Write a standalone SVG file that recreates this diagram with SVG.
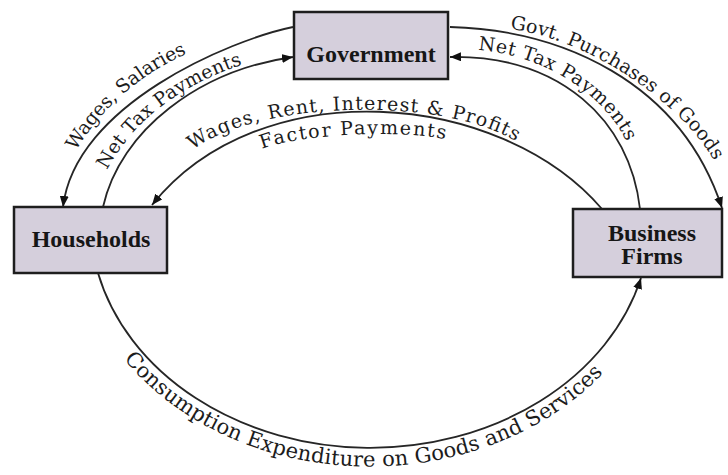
<svg xmlns="http://www.w3.org/2000/svg" width="728" height="475" viewBox="0 0 728 475">
  <style>
    .box { fill: #d5cfdc; stroke: #1e1e1e; stroke-width: 2.5; }
    .name { font-family: "Liberation Serif", "Times New Roman", serif; font-weight: bold; font-size: 24px; fill: #161616; text-anchor: middle; }
    .flow { fill: none; stroke: #262626; stroke-width: 1.8; marker-end: url(#head); }
    .lbl { font-family: "DejaVu Serif", "Liberation Serif", serif; font-size: 19px; fill: #1c1c1c; }
    .guide { fill: none; stroke: none; }
  </style>
  <defs>
    <marker id="head" markerUnits="userSpaceOnUse" markerWidth="11" markerHeight="9" refX="11" refY="4.5" orient="auto">
      <path d="M0,0 L11,4.5 L0,9 z" fill="#111"/>
    </marker>
    <!-- baselines for the flow labels -->
    <path id="g-wages-sal" class="guide" d="M 76 151 Q 114 86 190 52"/>
    <path id="g-tax-left" class="guide" d="M 107 170 Q 146 96 247 63"/>
    <path id="g-factor-top" class="guide" d="M 193 150 C 255 101, 445 94, 520 144"/>
    <path id="g-factor-bot" class="guide" d="M 262 149 C 300 134, 400 129, 450 140"/>
    <path id="g-purchases" class="guide" d="M 510 29 C 595 40, 690 110, 718 168"/>
    <path id="g-tax-right" class="guide" d="M 478 50 C 548 55, 612 100, 630 150"/>
    <path id="g-consumption" class="guide" d="M 124 359 A 297 245 0 0 0 607 369"/>
  </defs>

  <rect width="728" height="475" fill="#ffffff"/>

  <!-- flows between sectors -->
  <g id="connectors">
    <path class="flow" d="M 293 27 C 230 40, 75 105, 63 207"/>
    <path class="flow" d="M 103 207 C 120 130, 200 70, 293 57"/>
    <path class="flow" d="M 602 209 C 500 90, 260 70, 152 205"/>
    <path class="flow" d="M 450 27 C 560 30, 680 80, 722 208"/>
    <path class="flow" d="M 640 209 C 630 120, 560 55, 450 57"/>
    <path class="flow" d="M 98 273 A 280 228 0 0 0 641 278"/>
  </g>

  <g id="labels">
    <text class="lbl"><textPath href="#g-wages-sal" textLength="150" lengthAdjust="spacing">Wages, Salaries</textPath></text>
    <text class="lbl"><textPath href="#g-tax-left" textLength="176" lengthAdjust="spacing">Net Tax Payments</textPath></text>
    <text class="lbl"><textPath href="#g-factor-top" textLength="335" lengthAdjust="spacing">Wages, Rent, Interest &amp; Profits</textPath></text>
    <text class="lbl"><textPath href="#g-factor-bot" textLength="185" lengthAdjust="spacing">Factor Payments</textPath></text>
    <text class="lbl"><textPath href="#g-purchases" textLength="250" lengthAdjust="spacing">Govt. Purchases of Goods</textPath></text>
    <text class="lbl"><textPath href="#g-tax-right" textLength="182" lengthAdjust="spacing">Net Tax Payments</textPath></text>
    <text class="lbl" style="font-size:21px"><textPath href="#g-consumption" textLength="535" lengthAdjust="spacing">Consumption Expenditure on Goods and Services</textPath></text>
  </g>

  <g id="government">
    <rect class="box" x="294" y="12" width="154" height="67"/>
    <text class="name" x="371" y="62">Government</text>
  </g>

  <g id="households">
    <rect class="box" x="14" y="207" width="153" height="66"/>
    <text class="name" x="91" y="247">Households</text>
  </g>

  <g id="business-firms">
    <rect class="box" x="573" y="209" width="149" height="68"/>
    <text class="name" x="652" y="241">Business</text>
    <text class="name" x="652" y="264">Firms</text>
  </g>
</svg>
